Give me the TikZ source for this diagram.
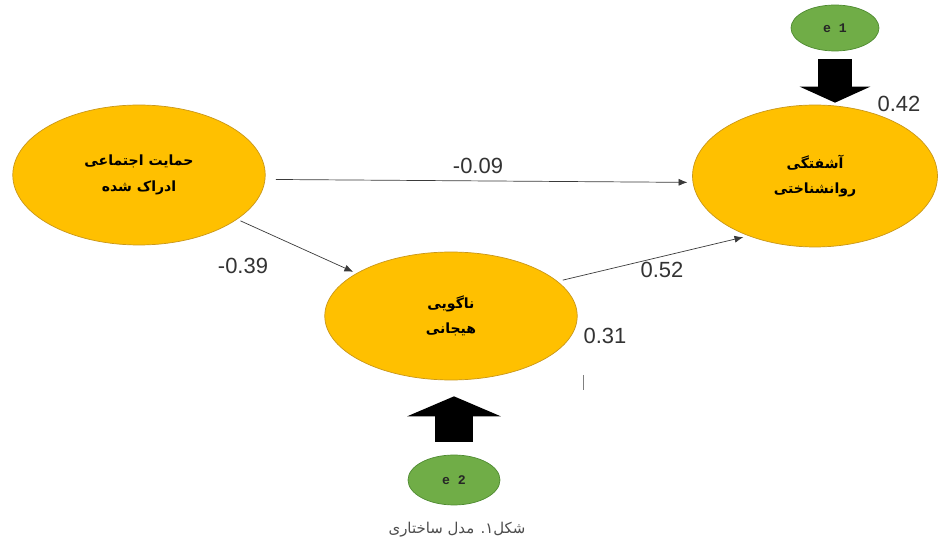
\documentclass[tikz,border=0pt]{standalone}
\usepackage{fontspec}
\setmainfont{Liberation Sans}
\newfontfamily\farsi[Script=Arabic]{DejaVu Sans}
\newfontfamily\errfont{Liberation Mono}
\TeXXeTstate=1
\usepackage{tikz}
\usetikzlibrary{arrows.meta,shapes.geometric,positioning}
\definecolor{latentfill}{HTML}{FFC000}
\definecolor{latentline}{HTML}{C9971A}
\definecolor{errfill}{HTML}{70AD47}
\definecolor{errline}{HTML}{4E8A30}
\definecolor{pathgray}{HTML}{3A3A3A}

\begin{document}
\begin{tikzpicture}[x=0.02cm,y=-0.02cm,
  latent/.style={ellipse,draw=latentline,fill=latentfill,inner sep=0pt,align=center,
    font=\farsi\bfseries\fontsize{8}{14.5}\selectfont},
  errvar/.style={ellipse,draw=errline,fill=errfill,inner sep=0pt,text=black!85,
    font=\errfont\bfseries\fontsize{7.5}{8}\selectfont},
  causal/.style={draw=pathgray,thin,-{Latex[length=5pt,width=4pt]}},
  fat/.style 2 args={draw=black,-{Triangle[length=#1,width=#2]}},
  coef/.style={text=black!80,font=\fontsize{12.5}{14}\selectfont}]
\useasboundingbox (0,0) rectangle (938,547);

\node[latent,minimum width=5.05cm,minimum height=2.8cm] (SS) at (139,175)
  {\beginR حمایت اجتماعی\endR\\\beginR ادراک شده\endR};
\node[latent,minimum width=5.05cm,minimum height=2.56cm] (AL) at (451,316)
  {\beginR ناگویی\endR\\\beginR هیجانی\endR};
\node[latent,minimum width=4.9cm,minimum height=2.84cm] (PD) at (815,176)
  {\beginR آشفتگی\endR\\\beginR روانشناختی\endR};
\node[errvar,minimum width=1.76cm,minimum height=0.92cm] (e1) at (835,28) {e 1};
\node[errvar,minimum width=1.84cm,minimum height=1cm] (e2) at (454,480) {e 2};

\draw[causal,shorten <=6pt,shorten >=3pt] (SS.-2) -- (PD.183);
\draw[causal,shorten <=2pt,shorten >=2pt] (SS) -- (AL);
\draw[causal,shorten <=3pt,shorten >=3pt] (AL.18) -- (PD.222);

\draw[fat={0.32cm}{1.4cm},line width=0.7cm,shorten <=0.16cm,shorten >=0.04cm]
  (e1.south) -- (e1.south |- PD.north);
\draw[fat={0.4cm}{1.86cm},line width=0.76cm,shorten <=0.26cm,shorten >=0.32cm]
  (e2.north) -- (e2.north |- AL.south);

\node[coef] (c1) at (478,166) {-0.09};
\node[coef] (c2) at (243,266) {-0.39};
\node[coef] (c3) at (662,270) {0.52};
\node[coef] (c4) at (605,336) {0.31};
\node[coef] (c5) at (899,104) {0.42};

\coordinate (tickA) at (583,375);
\coordinate (tickB) at (583,390);
\draw[gray,thin] (tickA) -- (tickB);

\node[text=black!70,font=\farsi\fontsize{8.5}{10}\selectfont] (cap) at (457,530)
  {\beginR شکل۱. مدل ساختاری\endR};
\end{tikzpicture}
\end{document}
